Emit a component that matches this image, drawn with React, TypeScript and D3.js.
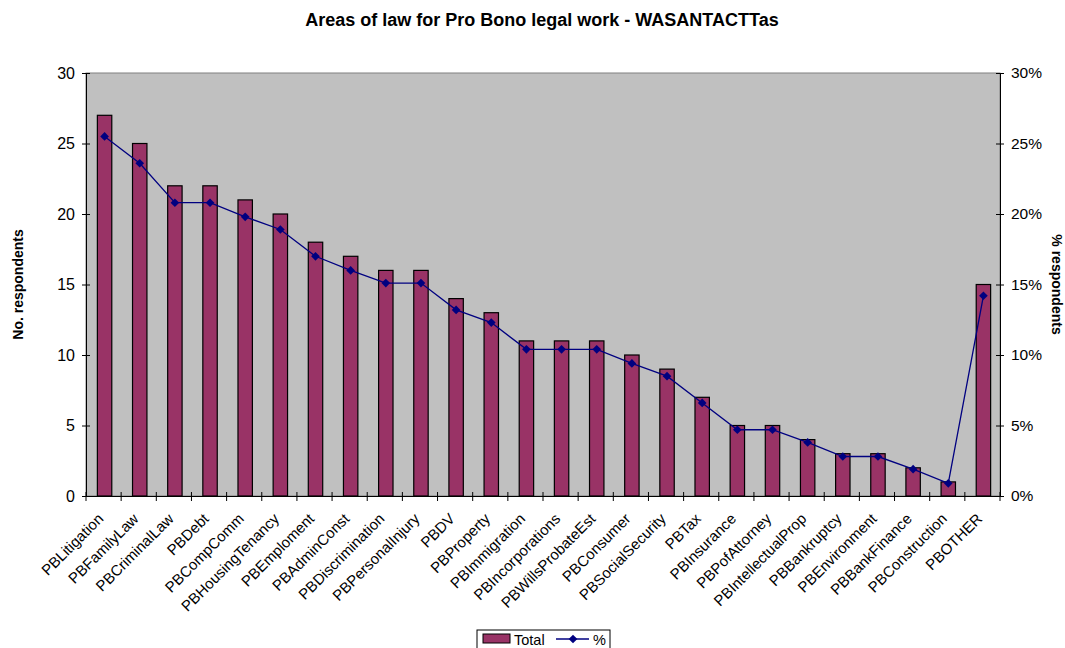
import React, { useEffect, useRef } from 'react';
import * as d3 from 'd3';

const categories = [
  'PBLitigation', 'PBFamilyLaw', 'PBCriminalLaw', 'PBDebt', 'PBCompComm',
  'PBHousingTenancy', 'PBEmploment', 'PBAdminConst', 'PBDiscrimination',
  'PBPersonalInjury', 'PBDV', 'PBProperty', 'PBImmigration', 'PBIncorporations',
  'PBWillsProbateEst', 'PBConsumer', 'PBSocialSecurity', 'PBTax', 'PBInsurance',
  'PBPofAttorney', 'PBIntellectualProp', 'PBBankruptcy', 'PBEnvironment',
  'PBBankFinance', 'PBConstruction', 'PBOTHER'
];
const totals = [27, 25, 22, 22, 21, 20, 18, 17, 16, 16, 14, 13, 11, 11, 11, 10, 9, 7, 5, 5, 4, 3, 3, 2, 1, 15];
const percents = [25.5, 23.6, 20.8, 20.8, 19.8, 18.9, 17.0, 16.0, 15.1, 15.1, 13.2, 12.3, 10.4, 10.4, 10.4, 9.4, 8.5, 6.6, 4.7, 4.7, 3.8, 2.8, 2.8, 1.9, 0.9, 14.2];
const leftTicks = [0, 5, 10, 15, 20, 25, 30];
const rightTicks = [0, 5, 10, 15, 20, 25, 30];

export default function App() {
  const ref = useRef<SVGSVGElement>(null);

  useEffect(() => {
    const svg = d3.select(ref.current);
    svg.selectAll('*').remove();

    const margin = { top: 73, right: 65, bottom: 152, left: 86 };
    const W = 1065, H = 648;
    const width = W - margin.left - margin.right;
    const height = H - margin.top - margin.bottom;
    const font = 'Arial, "Liberation Sans", sans-serif';

    const x = d3.scaleBand().domain(categories).range([0, width]).paddingInner(0).paddingOuter(0);
    const y = d3.scaleLinear().domain([0, 30]).range([height, 0]);
    const yp = d3.scaleLinear().domain([0, 30]).range([height, 0]);

    svg.append('text')
      .attr('x', margin.left + width / 2 - 1).attr('y', 26)
      .attr('text-anchor', 'middle')
      .style('font-family', font).style('font-weight', 'bold').style('font-size', '18px')
      .text('Areas of law for Pro Bono legal work - WASANTACTTas');

    const g = svg.append('g').attr('transform', `translate(${margin.left},${margin.top})`);

    g.append('rect')
      .attr('width', width).attr('height', height)
      .style('fill', '#c0c0c0').style('stroke', '#808080').style('stroke-width', 1);

    const bw = x.bandwidth() * 0.41;
    g.selectAll('rect.bar')
      .data(totals)
      .enter()
      .append('rect')
      .attr('class', 'bar')
      .attr('x', (d, i) => x(categories[i])! + x.bandwidth() / 2 - bw / 2 + 1)
      .attr('y', d => y(d))
      .attr('width', bw)
      .attr('height', d => height - y(d))
      .style('fill', '#993366').style('stroke', '#000').style('stroke-width', 1.2);

    const line = d3.line<number>()
      .x((d, i) => x(categories[i])! + x.bandwidth() / 2 + 1)
      .y(d => yp(d));

    g.append('path')
      .attr('d', line(percents))
      .style('fill', 'none').style('stroke', '#000080').style('stroke-width', 1.3);

    const diamond = d3.symbol().type(d3.symbolDiamond2).size(48);
    g.selectAll('path.mk')
      .data(percents)
      .enter()
      .append('path')
      .attr('class', 'mk')
      .attr('d', diamond)
      .attr('transform', (d, i) => `translate(${x(categories[i])! + x.bandwidth() / 2 + 1},${yp(d)})`)
      .style('fill', '#000080');

    // left axis
    const la = g.append('g')
      .call(d3.axisLeft(y).tickValues(leftTicks).tickSize(4).tickPadding(7).tickSizeOuter(0));
    la.select('.domain').style('stroke', '#000');
    la.selectAll('.tick line').attr('x1', 4).attr('x2', -4);
    la.selectAll('text').style('font-family', font).style('font-size', '16px').attr('fill', '#000');

    // right axis
    const ra = g.append('g').attr('transform', `translate(${width},0)`)
      .call(d3.axisRight(yp).tickValues(rightTicks).tickSize(4).tickPadding(7).tickSizeOuter(0)
        .tickFormat(d => `${d}%`));
    ra.select('.domain').style('stroke', '#000');
    ra.selectAll('.tick line').attr('x1', -4).attr('x2', 4);
    ra.selectAll('text').style('font-family', font).style('font-size', '15.5px').attr('fill', '#000');

    // bottom axis
    const xa = g.append('g').attr('transform', `translate(0,${height})`)
      .call(d3.axisBottom(x).tickSize(0).tickPadding(0));
    xa.select('.domain').style('stroke', '#000');
    xa.selectAll('.tick text')
      .attr('transform', 'translate(-3,20) rotate(-45)')
      .attr('text-anchor', 'end')
      .attr('dy', '0.35em')
      .attr('y', 0)
      .style('font-family', font).style('font-size', '15px').attr('fill', '#000');
    g.selectAll('line.xt')
      .data(d3.range(categories.length + 1))
      .enter()
      .append('line')
      .attr('class', 'xt')
      .attr('x1', i => i * x.step()).attr('x2', i => i * x.step())
      .attr('y1', height - 4).attr('y2', height + 5)
      .style('stroke', '#000');

    svg.append('text')
      .attr('transform', `translate(23,${margin.top + height / 2}) rotate(-90)`)
      .attr('text-anchor', 'middle')
      .style('font-family', font).style('font-weight', 'bold').style('font-size', '14px')
      .text('No. respondents');

    svg.append('text')
      .attr('transform', `translate(1052,${margin.top + height / 2}) rotate(90)`)
      .attr('text-anchor', 'middle')
      .style('font-family', font).style('font-weight', 'bold').style('font-size', '14px')
      .text('% respondents');

    // legend
    const lg = svg.append('g').attr('transform', 'translate(477,630)');
    lg.append('rect').attr('width', 133).attr('height', 22)
      .style('fill', '#fff').style('stroke', '#000');
    lg.append('rect').attr('x', 6).attr('y', 4).attr('width', 27).attr('height', 9)
      .style('fill', '#993366').style('stroke', '#000');
    lg.append('text').attr('x', 37).attr('y', 15)
      .style('font-family', font).style('font-size', '14.5px').text('Total');
    lg.append('line').attr('x1', 79).attr('x2', 112).attr('y1', 9).attr('y2', 9)
      .style('stroke', '#000080').style('stroke-width', 1.3);
    lg.append('path').attr('d', diamond).attr('transform', 'translate(96,9)').style('fill', '#000080');
    lg.append('text').attr('x', 116).attr('y', 15)
      .style('font-family', font).style('font-size', '14.5px').text('%');
  }, []);

  return (
    <svg ref={ref} width={1065} height={648} style={{ position: 'absolute', left: 0, top: 0, background: '#fff' }} />
  );
}
